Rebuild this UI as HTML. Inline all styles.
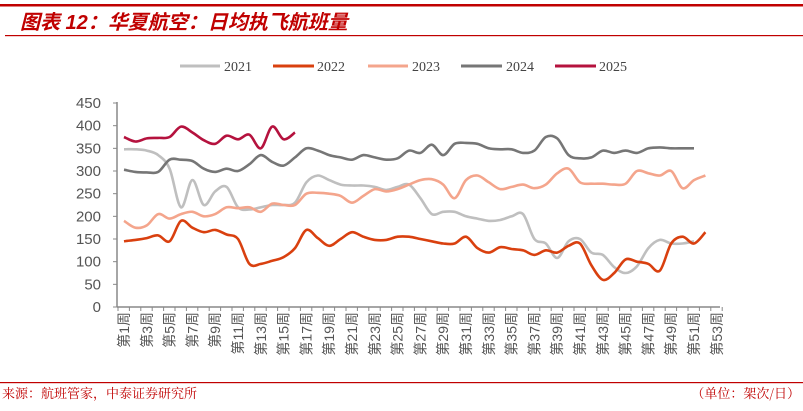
<!DOCTYPE html>
<html><head><meta charset="utf-8"><style>
body{margin:0;background:#fff;width:803px;height:406px;overflow:hidden;font-family:"Liberation Sans","Noto Sans CJK SC",sans-serif}
</style></head><body>
<svg id="s" width="803" height="406" xmlns="http://www.w3.org/2000/svg" font-family="Liberation Sans, Noto Sans CJK SC, sans-serif">
<rect x="0" y="4" width="803" height="2.5" fill="#c00000"/>
<text x="20" y="29" font-size="20" font-weight="bold" font-style="italic" fill="#c00000" font-family="Liberation Sans, Noto Sans CJK SC, sans-serif">图表 12：华夏航空：日均执飞航班量</text>
<rect x="5" y="35" width="798" height="1.2" fill="#c00000"/>
<rect x="0" y="382" width="803" height="1.2" fill="#c00000"/>
<text x="2" y="398" font-size="13" fill="#c00000" font-family="Noto Serif CJK SC, serif">来源：航班管家，中泰证券研究所</text>
<text x="800" y="398" font-size="13" fill="#c00000" text-anchor="end" font-family="Noto Serif CJK SC, serif">（单位：架次/日）</text>
<g font-family="Liberation Serif, serif" font-size="14" fill="#444">
<line x1="180" y1="66" x2="220" y2="66" stroke="#bfbfbf" stroke-width="3"/><text x="224" y="71">2021</text>
<line x1="273" y1="66" x2="314" y2="66" stroke="#d9400f" stroke-width="3"/><text x="317" y="71">2022</text>
<line x1="368" y1="66" x2="408" y2="66" stroke="#f4a58c" stroke-width="3"/><text x="412" y="71">2023</text>
<line x1="461" y1="66" x2="502" y2="66" stroke="#767676" stroke-width="3"/><text x="506" y="71">2024</text>
<line x1="555" y1="66" x2="596" y2="66" stroke="#b5123e" stroke-width="3"/><text x="599" y="71">2025</text>
</g>
<g id="ax"></g>
<g id="ln"></g>
</svg>
<script>
var ns="http://www.w3.org/2000/svg";
function el(t,a,p,txt){var e=document.createElementNS(ns,t);for(var k in a)e.setAttribute(k,a[k]);if(txt)e.textContent=txt;p.appendChild(e);return e;}
var ax=document.getElementById('ax'),ln=document.getElementById('ln');
function Y(v){return 307-v*0.4533;}
function X(w){return 124+(w-1)*11.4;}
el('line',{x1:117,y1:102,x2:117,y2:307,stroke:'#888','stroke-width':1.5},ax);
el('line',{x1:117,y1:307,x2:720,y2:307,stroke:'#888','stroke-width':1.5},ax);
for(var v=0;v<=450;v+=50){var y=Y(v);el('line',{x1:113,y1:y,x2:117,y2:y,stroke:'#888'},ax);
el('text',{x:101,y:y+5,'font-size':15,fill:'#555','text-anchor':'end'},ax,String(v));}
for(var w=1;w<=54;w++){var x=118+(w-1)*11.4;el('line',{x1:x,y1:307,x2:x,y2:311,stroke:'#888'},ax);}
for(var w=1;w<=53;w+=2){var x=X(w)+5;el('text',{transform:'translate('+x+',312) rotate(-90)','font-size':14,fill:'#555','text-anchor':'end'},ax,'第'+w+'周');}
var d={
'#bfbfbf':[348,348,345,335,305,220,280,225,255,265,220,215,220,225,225,230,275,290,280,270,268,268,265,258,265,270,240,205,210,210,200,195,190,192,200,205,150,140,108,145,150,120,115,88,75,90,130,148,140,140,145],
'#d9400f':[145,148,152,158,145,190,175,165,170,160,150,95,95,102,110,130,170,152,135,150,165,155,148,148,155,155,150,145,140,140,155,130,120,132,128,125,115,125,120,135,140,92,60,75,105,100,95,80,140,155,140,165],
'#f4a58c':[190,175,180,205,195,205,210,200,205,220,218,220,210,228,225,225,250,252,250,245,230,245,260,255,260,270,280,282,270,240,280,290,275,260,265,270,262,270,295,305,275,272,272,270,272,300,295,290,300,262,280,290],
'#767676':[303,298,297,298,325,325,322,305,298,305,300,315,335,320,312,330,350,345,335,330,325,335,330,325,328,345,340,358,335,360,362,360,350,348,348,340,345,375,372,335,328,330,345,340,345,340,350,352,350,350,350],
'#b5123e':[375,365,372,373,375,398,385,368,360,378,370,380,350,398,370,385]};
for(var c in d){var P=d[c].map(function(v,i){return [X(i+1),Y(v)]});
var s='M'+P[0][0].toFixed(1)+','+P[0][1].toFixed(1);
for(var i=0;i<P.length-1;i++){var p0=P[Math.max(0,i-1)],p1=P[i],p2=P[i+1],p3=P[Math.min(P.length-1,i+2)],t=6;
s+=' C'+(p1[0]+(p2[0]-p0[0])/t).toFixed(1)+','+(p1[1]+(p2[1]-p0[1])/t).toFixed(1)+' '+(p2[0]-(p3[0]-p1[0])/t).toFixed(1)+','+(p2[1]-(p3[1]-p1[1])/t).toFixed(1)+' '+p2[0].toFixed(1)+','+p2[1].toFixed(1);}
el('path',{d:s,fill:'none',stroke:c,'stroke-width':2.6,'stroke-linejoin':'round'},ln);}
</script>
</body></html>
